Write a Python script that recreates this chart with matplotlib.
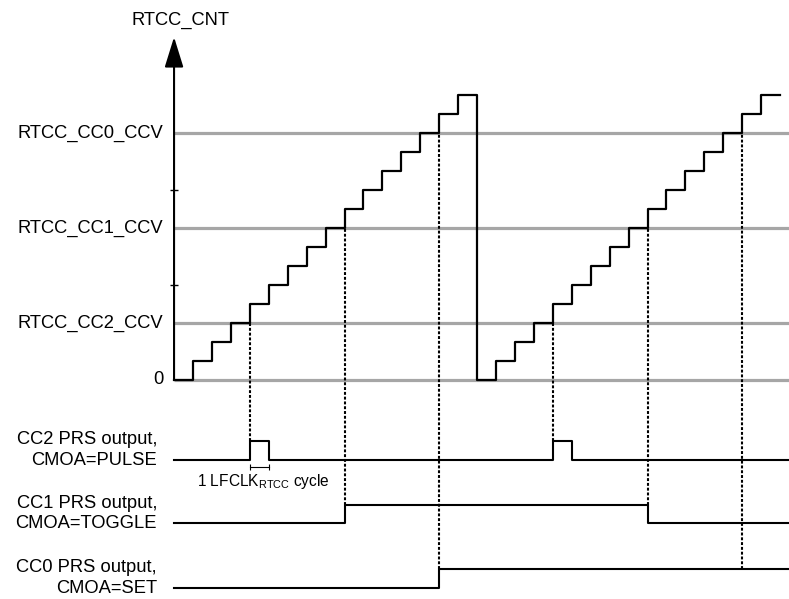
import matplotlib.pyplot as plt

plt.rcParams['font.family'] = 'Liberation Sans'
plt.rcParams['mathtext.fontset'] = 'custom'
plt.rcParams['mathtext.rm'] = 'Liberation Sans'

# LFCLK ticks and RTCC_CNT value held during each tick
ticks = [0, 1, 2, 3, 4, 5, 6, 7, 8, 9, 10, 11, 12, 13, 14, 15, 16,
         17, 18, 19, 20, 21, 22, 23, 24, 25, 26, 27, 28, 29, 30, 31, 32]
cnt = [0, 1, 2, 3, 4, 5, 6, 7, 8, 9, 10, 11, 12, 13, 14, 15,
       0, 1, 2, 3, 4, 5, 6, 7, 8, 9, 10, 11, 12, 13, 14, 15]

# compare channels
cc_names = ['RTCC_CC0_CCV', 'RTCC_CC1_CCV', 'RTCC_CC2_CCV']
cc_vals = [13, 8, 3]
out_line1 = ['CC0 PRS output,', 'CC1 PRS output,', 'CC2 PRS output,']
out_line2 = ['CMOA=SET', 'CMOA=TOGGLE', 'CMOA=PULSE']
out_mode = ['set', 'toggle', 'pulse']

# layout (count units below zero for the PRS waveforms)
out_low = [-10.95, -7.53, -4.21]
out_amp = [1.0, 0.95, 1.0]
x_left, x_right = -9.19, 32.47
y_bot, y_top = -11.53, 20.0

fig = plt.figure(figsize=(7.89, 5.99), dpi=100)
ax = fig.add_axes([0, 0, 1, 1])
ax.set_xlim(x_left, x_right)
ax.set_ylim(y_bot, y_top)
ax.axis('off')

fs = 13.2
grey = '#a6a6a6'

# compare levels
ax.hlines(cc_vals + [0], 0, x_right, color=grey, lw=2.3, zorder=1)
for name, v in zip(cc_names, cc_vals):
    ax.text(-0.58, v, name, ha='right', va='center', fontsize=fs)
ax.text(-0.58, 0, '0', ha='right', va='center', fontsize=fs)

# y axis with arrow
ax.annotate('', xy=(0, 18.05), xytext=(0, 0),
            arrowprops=dict(arrowstyle='-|>,head_length=1.87,head_width=0.58',
                            mutation_scale=10, lw=1.5, color='black',
                            shrinkA=0, shrinkB=0), zorder=3)
ax.hlines([5, 10], -0.22, 0.22, color='black', lw=1, zorder=3)
ax.text(0.32, 18.95, 'RTCC_CNT', ha='center', va='center', fontsize=fs)

# counter staircase
ax.step(ticks, cnt + [cnt[-1]], where='post', color='black', lw=1.6, zorder=4)

# PRS outputs
for name1, name2, v, mode, low, amp in zip(out_line1, out_line2, cc_vals,
                                           out_mode, out_low, out_amp):
    matches = [ticks[i] for i in range(1, len(cnt))
               if cnt[i - 1] == v and cnt[i] == v + 1]
    states = []
    s = 0
    for t in ticks[:-1]:
        if mode == 'pulse':
            s = 1 if t in matches else 0
        elif mode == 'toggle':
            if t in matches:
                s = 1 - s
        else:
            if t in matches:
                s = 1
        states.append(s)
    ys = [low + amp * st for st in states]
    ax.step(ticks + [x_right], ys + [ys[-1], ys[-1]], where='post',
            color='black', lw=1.5, zorder=4)
    high = low + amp
    ax.vlines(matches, high, v, color='black', lw=1.5,
              linestyles=(0, (1.4, 0.9)), zorder=2)
    ax.text(-0.9, high + 0.08, name1, ha='right', va='center', fontsize=fs)
    ax.text(-0.9, low - 0.05, name2, ha='right', va='center', fontsize=fs)
    if mode == 'pulse':
        m = matches[0]
        yb = low - 0.35
        ax.plot([m, m + 1], [yb, yb], color='black', lw=0.8,
                marker='|', ms=5, mew=0.8)
        ax.text(1.21, low - 1.15, '1 LFCLK$_{\\mathrm{RTCC}}$ cycle',
                ha='left', va='center', fontsize=11.2)

fig.savefig('out.png', dpi=100)
